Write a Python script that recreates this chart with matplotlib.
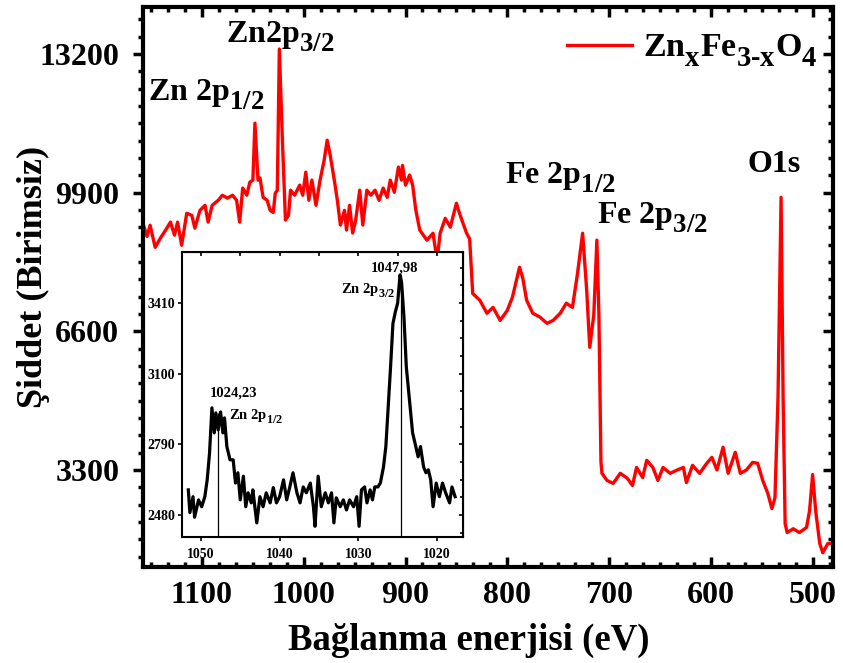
import matplotlib
matplotlib.use("Agg")
import matplotlib.pyplot as plt
import matplotlib._mathtext as mt
from matplotlib.ticker import AutoMinorLocator, MultipleLocator, FixedLocator

# larger, lower subscripts as in the reference
mt.SHRINK_FACTOR = 0.84
mt.FontConstantsBase.sub1 = 0.65
mt.FontConstantsBase.sub2 = 0.7

plt.rcParams['font.family'] = ['Liberation Serif', 'DejaVu Serif']
plt.rcParams['font.weight'] = 'bold'
plt.rcParams['mathtext.fontset'] = 'custom'
plt.rcParams['mathtext.rm'] = 'Liberation Serif:bold'
plt.rcParams['mathtext.it'] = 'Liberation Serif:bold'
plt.rcParams['mathtext.bf'] = 'Liberation Serif:bold'

# ---------------- main survey spectrum ----------------
energy = [1158, 1154, 1151, 1146, 1141, 1136, 1131, 1127, 1124, 1120, 1115, 1110, 1107,
          1102, 1097, 1094, 1090, 1084, 1080, 1075, 1070, 1066, 1063, 1060, 1056, 1053,
          1050, 1048, 1045, 1043, 1040, 1036, 1033, 1030, 1028, 1026, 1024, 1021, 1018,
          1015, 1013, 1009, 1004, 1001, 998, 995, 992, 988, 984, 980, 977, 974, 970, 967,
          964, 960, 958, 955, 952, 949, 945, 942, 938, 934, 930, 926, 922, 918, 915, 911,
          907, 904, 903, 900, 896, 893, 890, 886, 879, 873, 869, 866, 861, 856, 850, 847,
          840, 837, 834, 827, 820, 814, 807, 800, 795, 788, 785, 781, 775, 768, 761, 755,
          748, 742, 736, 731, 726, 722, 719, 715, 712, 710, 708, 707, 702, 696, 689, 682,
          677, 673, 667, 663, 657, 652, 647, 640, 633, 627, 624, 618, 611, 604, 599, 594,
          588, 583, 576, 571, 565, 559, 554, 549, 544, 540, 537, 534, 531, 529, 527, 525,
          519, 513, 506, 503, 500, 497, 493, 490, 485, 481]
intensity = [9170, 8860, 9125, 8600, 8815, 9000, 9200, 8890, 9200, 8650, 9410, 9360, 9055,
             9480, 9600, 9200, 9600, 9720, 9840, 9770, 9840, 9720, 9200, 10010, 9840, 10150,
             10200, 11556, 10200, 10250, 9790, 9720, 9480, 9430, 9890, 9960, 13320, 11150, 9250,
             9360, 9960, 9840, 10080, 9840, 10390, 9720, 10200, 9600, 10200, 10670, 11150, 10790,
             10200, 9720, 9130, 9480, 9010, 9600, 8940, 9250, 9960, 9130, 9960, 9840, 9960,
             9720, 10010, 9790, 10200, 9910, 10510, 10200, 10550, 10080, 10320, 10080, 9500,
             9010, 8770, 8935, 8290, 8935, 9290, 9080, 9650, 9410, 8935, 8800, 7500, 7340,
             7030, 7170, 6860, 7100, 7410, 8125, 7890, 7340, 7030, 6940, 6790, 6860, 7030,
             7270, 7170, 7980, 8935, 7580, 6220, 7000, 8770, 7000, 3500, 3220, 3050, 2980,
             3220, 3100, 2930, 3360, 3120, 3530, 3360, 3050, 3360, 3220, 3300, 3360, 3000,
             3410, 3220, 3460, 3600, 3300, 3840, 3220, 3720, 3220, 3300, 3480, 3460, 3050,
             2740, 2380, 2640, 5030, 9790, 5030, 2020, 1810, 1900, 1810, 1930, 2330, 3190,
             2330, 1550, 1330, 1550, 1550]

# ---------------- inset (Zn 2p region) ----------------
inset_energy = [1051.6, 1051.4, 1051.0, 1050.8, 1050.3, 1049.9, 1049.5, 1049.2, 1048.9,
                1048.6, 1048.3, 1048.1, 1047.8, 1047.5, 1047.2, 1047.0, 1046.7, 1046.3,
                1045.9, 1045.6, 1045.3, 1045.0, 1044.6, 1044.3, 1044.0, 1043.6, 1043.4,
                1042.9, 1042.5, 1042.1, 1041.7, 1041.2, 1040.8, 1040.4, 1040.0, 1039.5,
                1039.1, 1038.7, 1038.3, 1037.8, 1037.4, 1037.0, 1036.6, 1036.1, 1035.7,
                1035.5, 1035.1, 1034.7, 1034.2, 1033.8, 1033.4, 1033.1, 1032.8, 1032.3,
                1031.9, 1031.5, 1031.1, 1030.6, 1030.2, 1029.9, 1029.6, 1029.2, 1028.9,
                1028.5, 1028.2, 1027.9, 1027.5, 1027.2, 1026.8, 1026.5, 1026.2, 1025.9,
                1025.6, 1025.3, 1025.0, 1024.7, 1024.5, 1024.2, 1023.9, 1023.5, 1023.1,
                1022.8, 1022.4, 1022.1, 1021.7, 1021.4, 1021.1, 1020.8, 1020.5, 1020.1,
                1019.7, 1019.3, 1018.9, 1018.4, 1018.1, 1017.7]
inset_counts = [2590, 2490, 2560, 2470, 2546, 2516, 2560, 2634, 2752,
                2950, 2840, 2928, 2853, 2932, 2840, 2906, 2780, 2722,
                2722, 2620, 2665, 2546, 2650, 2516, 2577, 2533, 2590,
                2445, 2560, 2516, 2577, 2533, 2600, 2533, 2560, 2634,
                2546, 2603, 2665, 2577, 2533, 2603, 2577, 2620, 2516,
                2430, 2650, 2516, 2577, 2533, 2577, 2445, 2555, 2516,
                2546, 2502, 2546, 2516, 2560, 2430, 2590, 2603, 2533,
                2590, 2546, 2603, 2603, 2620, 2690, 2780, 2955, 3130,
                3320, 3370, 3410, 3533, 3500, 3350, 3130, 2985, 2840,
                2796, 2735, 2780, 2690, 2665, 2678, 2634, 2516, 2620,
                2560, 2620, 2577, 2533, 2603, 2560]
peak_pos = [1047.8, 1024.6]
peak_top = [2928, 3533]
peak_values = ['1024,23', '1047,98']
peak_names = [r'Zn 2p$_{1/2}$', r'Zn 2p$_{3/2}$']

main_xticks = [1100, 1000, 900, 800, 700, 600, 500]
main_yticks = [3300, 6600, 9900, 13200]
inset_xticks = [1050, 1040, 1030, 1020]
inset_yticks = [2480, 2790, 3100, 3410]

fig = plt.figure(figsize=(8.43, 6.63), dpi=100)
ax = fig.add_axes([0.1696, 0.1448, 0.8185, 0.8446])
ax.plot(energy, intensity, color='#ff0000', lw=2.4,
        label=r'Zn$_{\mathregular{x}}$Fe$_{\mathregular{3\text{-}x}}$O$_{4}$')
ax.set_xlim(1158, 480)
ax.set_ylim(990, 14320)
ax.xaxis.set_major_locator(FixedLocator(main_xticks))
ax.yaxis.set_major_locator(FixedLocator(main_yticks))
ax.xaxis.set_minor_locator(AutoMinorLocator(6))
ax.yaxis.set_minor_locator(AutoMinorLocator(8))
for s in ax.spines.values():
    s.set_linewidth(3)
ax.tick_params(axis='x', which='both', direction='in', width=2.5, labelsize=23, pad=10)
ax.tick_params(axis='x', which='major', length=7)
ax.tick_params(axis='x', which='minor', length=3.5)
ax.tick_params(axis='y', which='both', direction='out', width=2.5, labelsize=23, pad=10)
ax.tick_params(axis='y', which='major', length=7)
ax.tick_params(axis='y', which='minor', length=3.5)
for lab in ax.get_xticklabels() + ax.get_yticklabels():
    lab.set_fontweight('bold')

top = ax.secondary_xaxis('top')
top.xaxis.set_major_locator(FixedLocator(main_xticks))
top.xaxis.set_minor_locator(AutoMinorLocator(6))
top.tick_params(which='both', direction='in', width=2.5, labeltop=False)
top.tick_params(which='major', length=7)
top.tick_params(which='minor', length=3.5)
right = ax.secondary_yaxis('right')
right.yaxis.set_major_locator(FixedLocator(main_yticks))
right.yaxis.set_minor_locator(AutoMinorLocator(8))
right.tick_params(which='both', direction='in', width=2.5, labelright=False)
right.tick_params(which='major', length=7)
right.tick_params(which='minor', length=3.5)

ax.set_xlabel('Bağlanma enerjisi (eV)', fontsize=26.5, fontweight='bold')
ax.xaxis.set_label_coords(0.472, -0.1)
ax.set_ylabel('Şiddet (Birimsiz)', fontsize=26, fontweight='bold')
ax.yaxis.set_label_coords(-0.135, 0.518)

ann_kw = dict(fontsize=23, fontweight='bold', ha='left', va='baseline')
ax.text(1153, 12104, r'Zn 2p$_{1/2}$', **ann_kw)
ax.text(1076.4, 13490, r'Zn2p$_{3/2}$', **ann_kw)
ax.text(802.4, 10126, r'Fe 2p$_{1/2}$', **ann_kw)
ax.text(712, 9173, r'Fe 2p$_{3/2}$', **ann_kw)
ax.text(563.6, 10388, 'O1s', **ann_kw)

leg = ax.legend(loc='upper right', bbox_to_anchor=(1.008, 0.99), frameon=False,
                prop={'family': 'Liberation Serif', 'weight': 'bold', 'size': 24.5},
                handlelength=1.9, handletextpad=0.35, borderaxespad=0.2)

# ---------------- inset ----------------
axi = fig.add_axes([0.2159, 0.19, 0.3333, 0.4299])
axi.plot(inset_energy, inset_counts, color='black', lw=2.3)
axi.vlines(peak_pos, 2383, peak_top, color='black', lw=0.9)
axi.set_xlim(1052.4, 1016.7)
axi.set_ylim(2383, 3634)
axi.xaxis.set_major_locator(FixedLocator(inset_xticks))
axi.yaxis.set_major_locator(FixedLocator(inset_yticks))
for s in axi.spines.values():
    s.set_linewidth(1.5)
axi.tick_params(which='both', direction='out', width=1.2, length=3, labelsize=10, pad=5)
axi.tick_params(axis='y', pad=2)
for lab in axi.get_xticklabels() + axi.get_yticklabels():
    lab.set_fontweight('bold')
itop = axi.secondary_xaxis('top')
itop.xaxis.set_major_locator(MultipleLocator(5))
itop.tick_params(direction='in', width=1.2, length=3, labeltop=False)
iright = axi.secondary_yaxis('right')
iright.yaxis.set_major_locator(FixedLocator(inset_yticks))
iright.yaxis.set_minor_locator(AutoMinorLocator(4))
iright.tick_params(which='both', direction='in', width=1.2, length=3, labelright=False)
iright.tick_params(which='minor', length=2)

ik = dict(fontsize=10.5, fontweight='bold', ha='left', va='baseline')
axi.text(1048.86, 3000, peak_values[0], **ik)
axi.text(1046.4, 2897, peak_names[0], **ik)
axi.text(1028.4, 3547, peak_values[1], **ik)
axi.text(1032.25, 3452, peak_names[1], **ik)

fig.savefig('out.png', dpi=100)
